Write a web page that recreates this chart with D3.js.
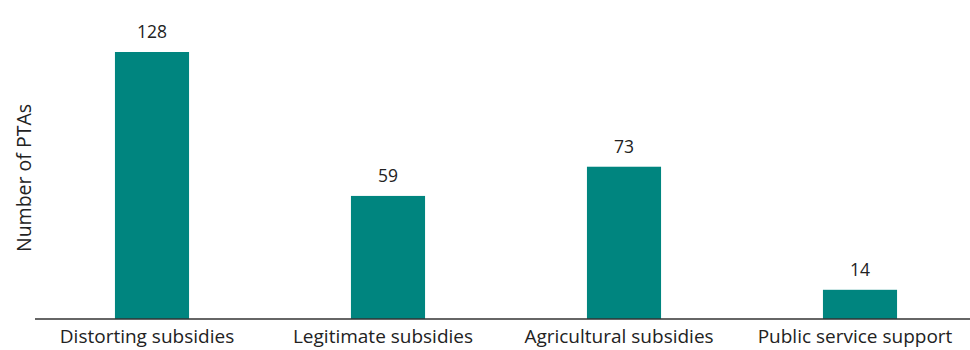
<!DOCTYPE html>
<html><head><meta charset="utf-8">
<script src="https://cdn.jsdelivr.net/npm/d3@7"></script>
<style>body{margin:0;background:#fff}svg{display:block}</style>
</head><body>
<svg id="chart" width="970" height="350"></svg>
<script>
const categories = ["Distorting subsidies", "Legitimate subsidies", "Agricultural subsidies", "Public service support"];
const values = [128, 59, 73, 14];
const yTitle = "Number of PTAs";

const svg = d3.select("#chart");
const font = "'Open Sans', sans-serif";
const x = d3.scaleBand().domain(categories).range([34, 978]).paddingInner(0.686).paddingOuter(0.343);
const y = d3.scaleLinear().domain([0, 128]).range([319, 52]);

svg.selectAll("rect.bar").data(values).enter().append("rect")
  .attr("class", "bar")
  .attr("x", (d, i) => x(categories[i]))
  .attr("width", x.bandwidth())
  .attr("y", d => y(d))
  .attr("height", d => y(0) - y(d))
  .attr("fill", "#00857f");

svg.selectAll("text.val").data(values).enter().append("text")
  .attr("class", "val")
  .attr("x", (d, i) => x(categories[i]) + x.bandwidth() / 2)
  .attr("y", d => y(d) - 14)
  .attr("text-anchor", "middle")
  .attr("font-family", font).attr("font-size", 17.5).attr("fill", "#222")
  .text(d => d);

const xAxis = d3.axisBottom(x).tickSize(0).tickPadding(0);
const gx = svg.append("g").attr("transform", `translate(0,${y(0)})`).call(xAxis);
gx.select(".domain").attr("d", "M35,0H970").attr("stroke", "#333").attr("stroke-width", 1.5);
gx.selectAll("text").attr("font-family", font).attr("font-size", 19).attr("fill", "#222")
  .attr("y", 24).attr("dy", 0).attr("x", -5);

svg.append("text")
  .attr("transform", "translate(31,178) rotate(-90)")
  .attr("text-anchor", "middle")
  .attr("font-family", font).attr("font-size", 19.5).attr("fill", "#222")
  .text(yTitle);
</script>
</body></html>
